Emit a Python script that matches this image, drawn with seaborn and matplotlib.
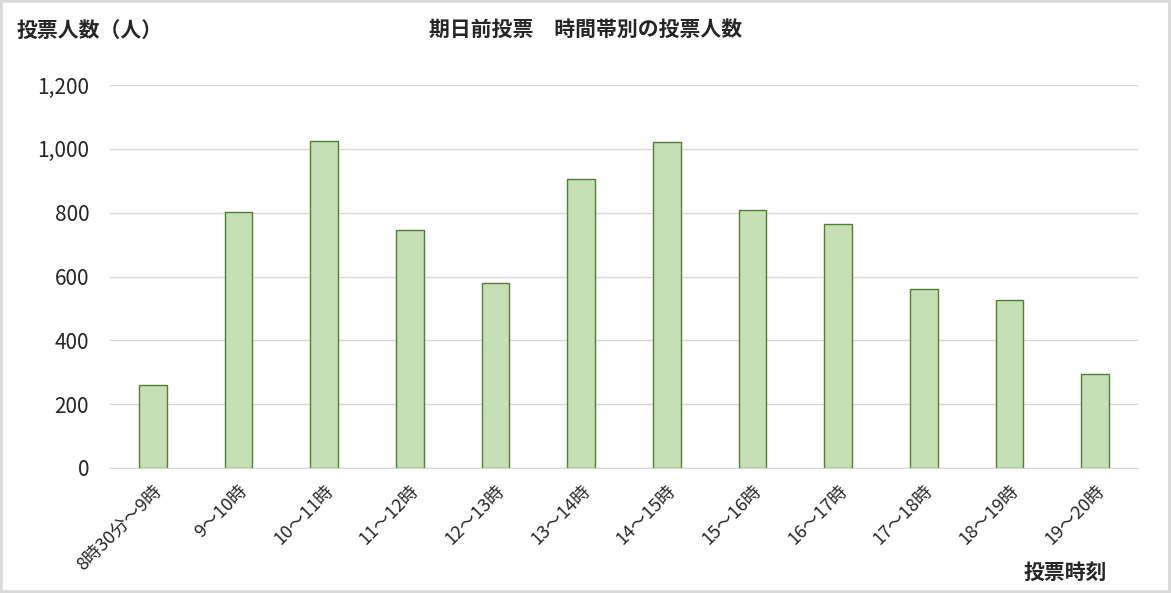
import matplotlib
matplotlib.use("Agg")
import matplotlib.pyplot as plt
import seaborn as sns
import pandas as pd
from matplotlib.patches import Rectangle
from matplotlib.ticker import FuncFormatter

categories = ["8時30分～9時", "9～10時", "10～11時", "11～12時", "12～13時", "13～14時",
              "14～15時", "15～16時", "16～17時", "17～18時", "18～19時", "19～20時"]
voters = [260, 802, 1024, 746, 580, 905, 1021, 808, 764, 561, 526, 295]
y_ticks = [0, 200, 400, 600, 800, 1000, 1200]

sns.set_style("white")
plt.rcParams['font.family'] = ['Noto Sans CJK JP', 'DejaVu Sans']

df = pd.DataFrame({"時間帯": categories, "投票人数": voters})

fig = plt.figure(figsize=(11.71, 5.93), dpi=100)
ax = fig.add_axes([110/1171, 1-468/593, (1138-110)/1171, (468-85)/593])

sns.barplot(data=df, x="時間帯", y="投票人数", ax=ax, color="#C5E0B4",
            edgecolor="#507E32", linewidth=1.0, width=0.32, saturation=1)

ax.set_ylim(0, 1200)
ax.set_xlim(-0.5, len(categories) - 0.5)
ax.set_yticks(y_ticks)
ax.yaxis.set_major_formatter(FuncFormatter(lambda v, p: f"{int(v):,}"))
ax.grid(axis="y", color="#D9D9D9", linewidth=1.0)
ax.set_axisbelow(True)
for s in ["top", "right", "left"]:
    ax.spines[s].set_visible(False)
ax.spines["bottom"].set_color("#D9D9D9")
ax.tick_params(axis="y", length=0, pad=15, labelsize=15)
ax.tick_params(axis="x", length=0, pad=10, labelsize=13)
plt.setp(ax.get_xticklabels(), rotation=45, ha="right", rotation_mode="anchor")
ax.set_xlabel("")
ax.set_ylabel("")

fig.text(17/1171, 1-30/593, "投票人数（人）", fontsize=15, fontweight="bold",
         ha="left", va="center")
fig.text(586/1171, 1-29/593, "期日前投票　時間帯別の投票人数", fontsize=15,
         fontweight="bold", ha="center", va="center")
fig.text(1065/1171, 1-572/593, "投票時刻", fontsize=15, fontweight="bold",
         ha="center", va="center")

fig.patches.append(Rectangle((0, 0), 1, 1, transform=fig.transFigure,
                             fill=False, edgecolor="#D9D9D9", linewidth=4))

fig.savefig("out.png", dpi=100)
